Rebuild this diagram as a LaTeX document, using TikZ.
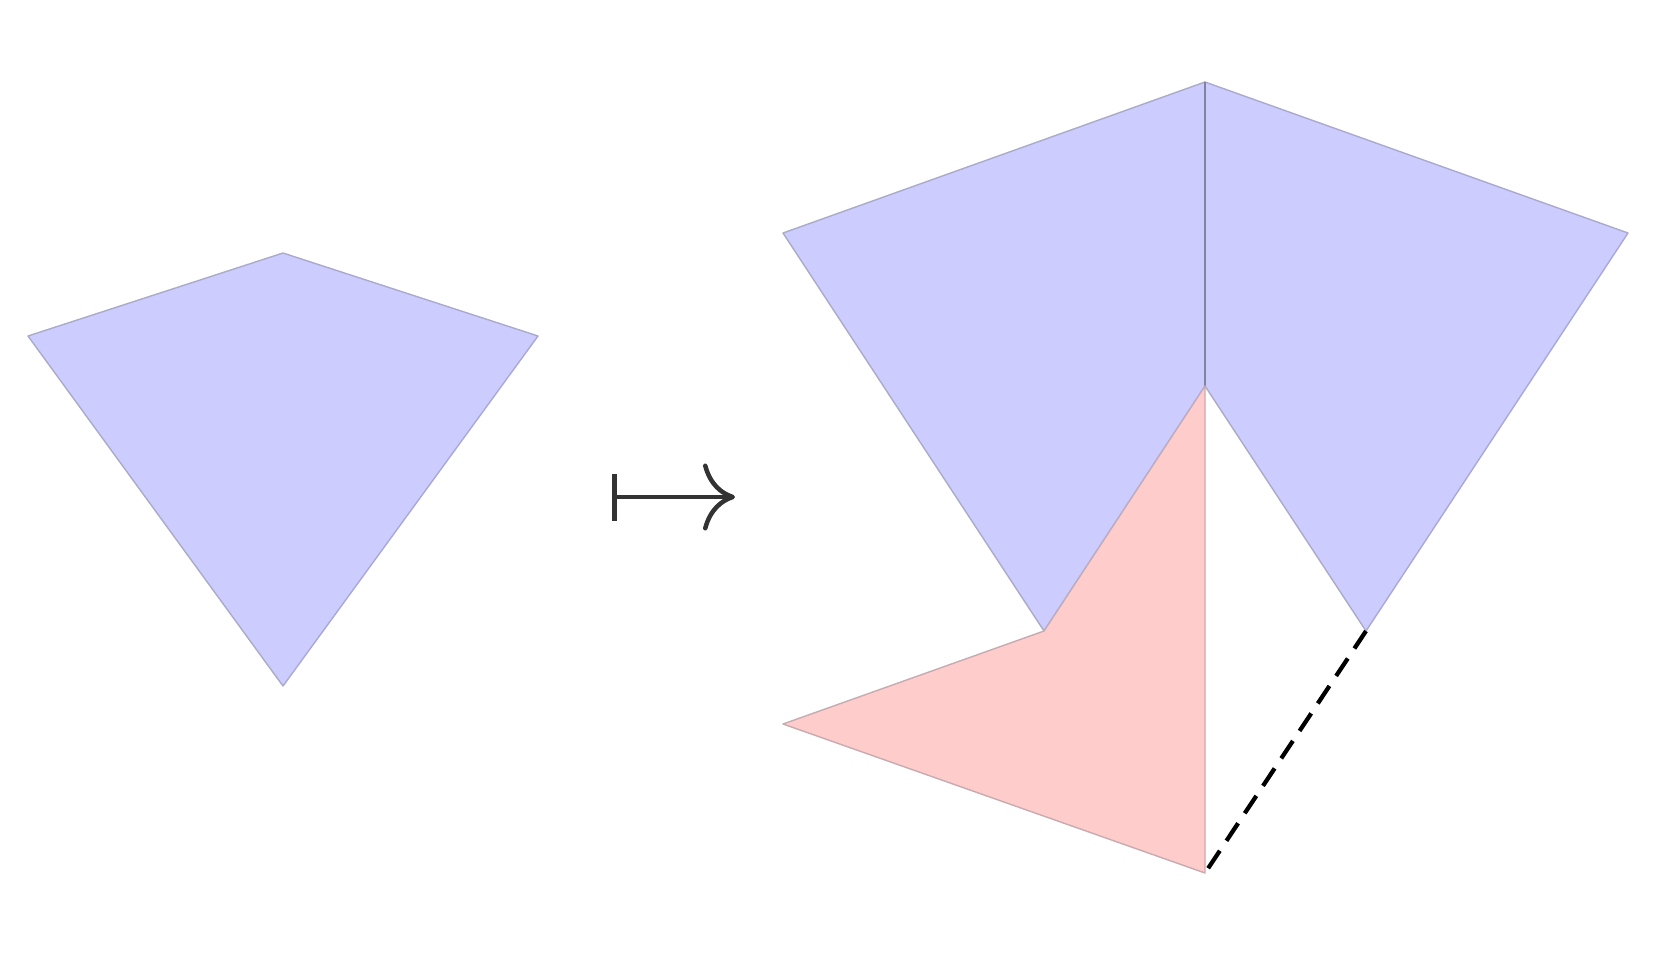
\documentclass[tikz,border=0pt]{standalone}
\usepackage{tikz}
\usetikzlibrary{arrows.meta}
\definecolor{kitefill}{RGB}{204,204,255}
\definecolor{kiteline}{RGB}{170,170,205}
\definecolor{foldfill}{RGB}{255,204,204}
\definecolor{foldline}{RGB}{200,170,175}
\definecolor{creaseline}{RGB}{130,130,160}
\definecolor{mapgray}{RGB}{51,51,51}
\begin{document}
\begin{tikzpicture}[x=0.02cm,y=-0.02cm,
		kite/.style={fill=kitefill,draw=kiteline,line width=0.8pt,line join=round},
		fold/.style={fill=foldfill,draw=foldline,line width=0.8pt,line join=round},
		crease/.style={draw=creaseline,line width=0.9pt},
		gap/.style={draw=black,line width=0.085cm,dash pattern=on 0.42cm off 0.24cm},
		maparrow/.style={draw=mapgray,line width=0.09cm,
			{Bar[width=0.94cm]}-{Computer Modern Rightarrow[length=0.64cm,width=1.34cm]}}]
		\useasboundingbox (0,0) rectangle (1654,968);
		% kite before
		\coordinate (T) at (283,253);
		\coordinate (L) at (28,336);
		\coordinate (R) at (538,336);
		\coordinate (B) at (283,686);
		\draw[kite] (T) -- (L) -- (B) -- (R) -- cycle;
		% maps to
		\coordinate (m1) at (612,497);
		\coordinate (m2) at (735,497);
		\draw[maparrow] (m1) -- (m2);
		% kite after
		\coordinate (T') at (1205,82);
		\coordinate (L') at (783,233);
		\coordinate (R') at (1628,233);
		\coordinate (I') at (1205,386);
		\coordinate (P') at (1044,631);
		\coordinate (Q') at (1366,631);
		\coordinate (F') at (783,724);
		\coordinate (B') at (1205,873);
		\draw[kite] (T') -- (L') -- (P') -- (I') -- cycle;
		\draw[kite] (T') -- (R') -- (Q') -- (I') -- cycle;
		\draw[crease] (T') -- (I');
		% folded flap
		\draw[fold] (I') -- (P') -- (F') -- (B') -- cycle;
		\draw[gap] (Q') -- (B');
	\end{tikzpicture}
\end{document}
